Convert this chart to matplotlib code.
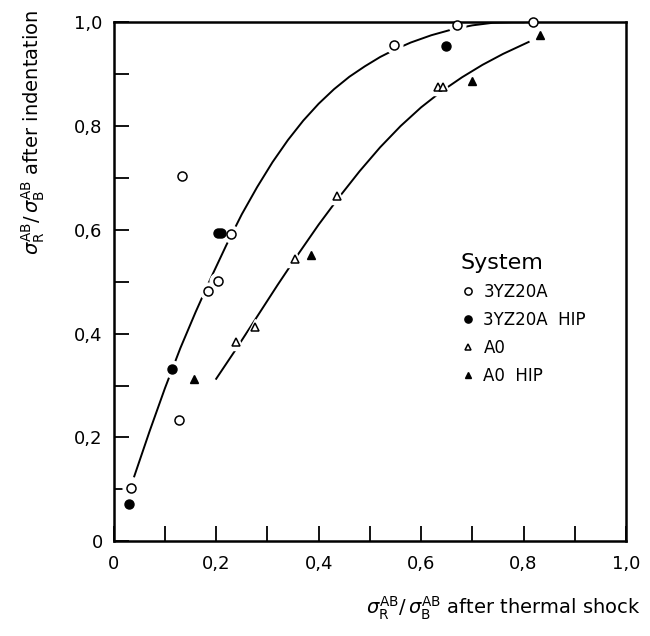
import matplotlib
matplotlib.use('Agg')
import matplotlib.pyplot as plt
from matplotlib.ticker import MultipleLocator, FixedLocator

plt.rcParams['font.family'] = ['DejaVu Sans']
plt.rcParams['mathtext.fontset'] = 'dejavusans'

# 3YZ20A (offene Kreise)
yz_x = [0.033, 0.128, 0.134, 0.184, 0.204, 0.229, 0.548, 0.670, 0.819]
yz_y = [0.102, 0.233, 0.703, 0.482, 0.501, 0.592, 0.956, 0.994, 1.0]
# 3YZ20A HIP (volle Kreise)
yzh_x = [0.029, 0.113, 0.203, 0.210, 0.648]
yzh_y = [0.071, 0.331, 0.593, 0.593, 0.954]
# A0 (offene Dreiecke)
a0_x = [0.239, 0.276, 0.353, 0.435, 0.634, 0.643]
a0_y = [0.383, 0.412, 0.543, 0.665, 0.875, 0.875]
# A0 HIP (volle Dreiecke)
a0h_x = [0.157, 0.385, 0.699, 0.833]
a0h_y = [0.312, 0.551, 0.886, 0.975]

# Ausgleichskurven
c1_x = [0.04, 0.07, 0.10, 0.13, 0.16, 0.19, 0.22, 0.25, 0.28, 0.31, 0.34, 0.37, 0.40,
        0.43, 0.46, 0.49, 0.52, 0.55, 0.58, 0.62, 0.66, 0.70, 0.74, 0.78, 0.82]
c1_y = [0.125, 0.212, 0.295, 0.372, 0.442, 0.508, 0.571, 0.630, 0.6825, 0.7305, 0.773, 0.8105, 0.843,
        0.871, 0.895, 0.915, 0.933, 0.948, 0.961, 0.975, 0.986, 0.994, 0.999, 1.0, 1.0]
c2_x = [0.20, 0.24, 0.28, 0.32, 0.36, 0.40, 0.44, 0.48, 0.52, 0.56, 0.60, 0.64, 0.68, 0.72, 0.76, 0.81]
c2_y = [0.313, 0.372, 0.433, 0.494, 0.553, 0.610, 0.663, 0.713, 0.759, 0.800, 0.836, 0.867, 0.894,
        0.918, 0.939, 0.962]

ticks = [0, 0.2, 0.4, 0.6, 0.8, 1.0]
tick_labels = ['0', '0,2', '0,4', '0,6', '0,8', '1,0']

fig = plt.figure(figsize=(6.5, 6.36), dpi=100)
ax = fig.add_axes([0.175, 0.149, 0.788, 0.816])

ax.plot(c1_x, c1_y, color='black', lw=1.4, zorder=1)
ax.plot(c2_x, c2_y, color='black', lw=1.4, zorder=1)

# weisse Hoefe um die Punkte -> Luecken in den Kurven
for xs, ys, m in [(yz_x, yz_y, 'o'), (yzh_x, yzh_y, 'o'), (a0_x, a0_y, '^'), (a0h_x, a0h_y, '^')]:
    ax.plot(xs, ys, ls='none', marker=m, ms=12, mfc='white', mec='white', zorder=2, clip_on=False)

ax.plot(yz_x, yz_y, ls='none', marker='o', ms=6.5, mfc='white', mec='black', mew=1.1, zorder=3, clip_on=False, label='3YZ20A')
ax.plot(yzh_x, yzh_y, ls='none', marker='o', ms=6.5, mfc='black', mec='black', zorder=3, clip_on=False, label='3YZ20A  HIP')
ax.plot(a0_x, a0_y, ls='none', marker='^', ms=6, mfc='white', mec='black', mew=1.1, zorder=3, clip_on=False, label='A0')
ax.plot(a0h_x, a0h_y, ls='none', marker='^', ms=6, mfc='black', mec='black', zorder=3, clip_on=False, label='A0  HIP')

ax.set_xlim(0, 1.0)
ax.set_ylim(0, 1.0)
ax.xaxis.set_major_locator(FixedLocator(ticks))
ax.yaxis.set_major_locator(FixedLocator(ticks))
ax.set_xticklabels(tick_labels)
ax.set_yticklabels(tick_labels)
ax.xaxis.set_minor_locator(MultipleLocator(0.1))
ax.yaxis.set_minor_locator(MultipleLocator(0.1))
ax.tick_params(which='both', direction='in', length=11, width=1.3, labelsize=13, top=False, right=False)
ax.tick_params(axis='x', pad=10)
ax.tick_params(axis='y', pad=8)
for s in ax.spines.values():
    s.set_linewidth(1.8)

leg = ax.legend(loc='upper left', bbox_to_anchor=(0.647, 0.585), frameon=False, title='System',
                fontsize=12, title_fontsize=16, handletextpad=0.4, labelspacing=0.6,
                handlelength=1.0, markerscale=0.8)
leg._legend_box.align = 'left'

fig.text(0.985, 0.022, r'$\sigma_\mathrm{R}^\mathrm{AB}/\,\sigma_\mathrm{B}^\mathrm{AB}$ after thermal shock',
         ha='right', va='bottom', fontsize=14)
fig.text(0.03, 0.985, r'$\sigma_\mathrm{R}^\mathrm{AB}/\,\sigma_\mathrm{B}^\mathrm{AB}$ after indentation',
         ha='left', va='top', rotation=90, fontsize=14)

fig.savefig('out.png', dpi=100)
